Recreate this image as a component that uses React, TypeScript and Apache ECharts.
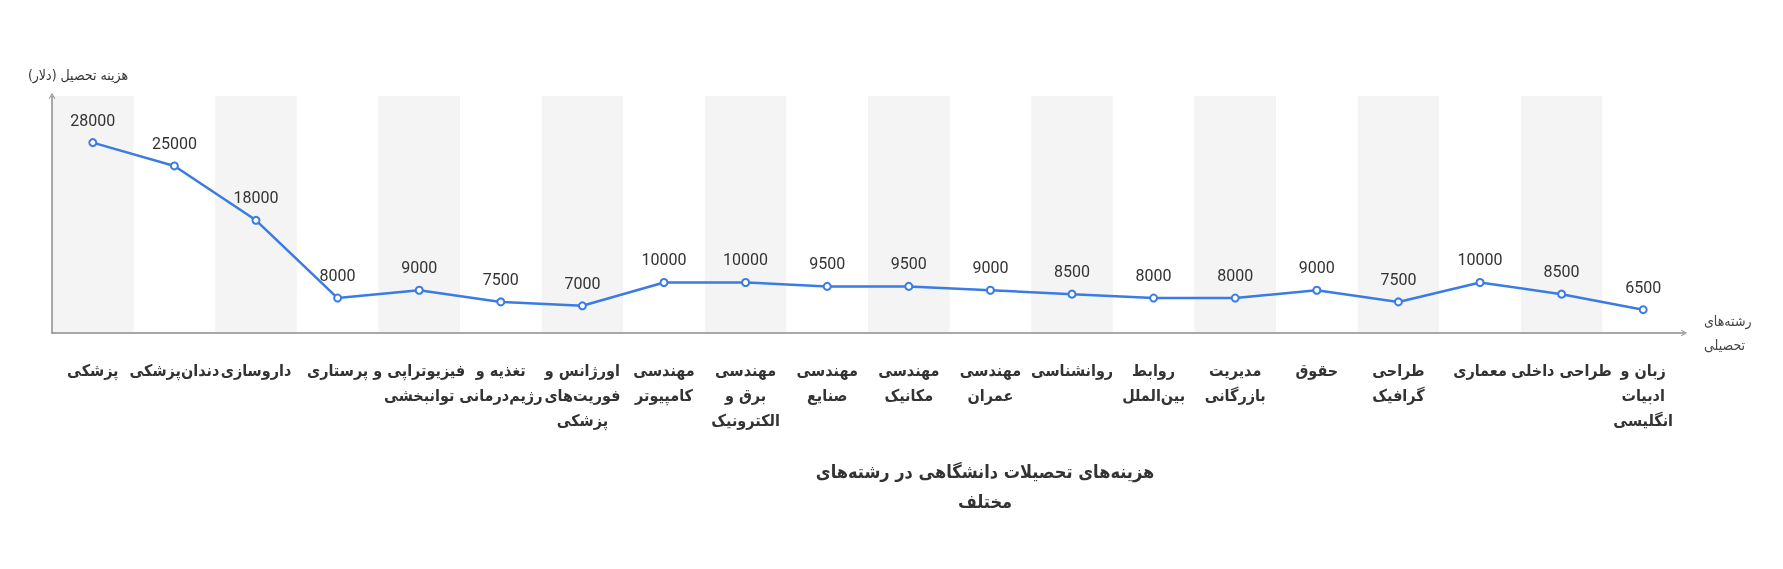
import * as echarts from 'echarts'
import React, { useEffect, useRef } from 'react'

// رشته‌ها (با شکست خط مثل نمودار اصلی)
const majors = [
  'پزشکی',
  'دندان‌پزشکی',
  'داروسازی',
  'پرستاری',
  'فیزیوتراپی و\nتوانبخشی',
  'تغذیه و\nرژیم‌درمانی',
  'اورژانس و\nفوریت‌های\nپزشکی',
  'مهندسی\nکامپیوتر',
  'مهندسی\nبرق و\nالکترونیک',
  'مهندسی\nصنایع',
  'مهندسی\nمکانیک',
  'مهندسی\nعمران',
  'روانشناسی',
  'روابط\nبین‌الملل',
  'مدیریت\nبازرگانی',
  'حقوق',
  'طراحی\nگرافیک',
  'معماری',
  'طراحی داخلی',
  'زبان و\nادبیات\nانگلیسی'
]

// هزینه (دلار)
const costs = [
  28000, 25000, 18000, 8000, 9000, 7500, 7000, 10000, 10000, 9500, 9500, 9000, 8500, 8000, 8000,
  9000, 7500, 10000, 8500, 6500
]

const titleText = 'هزینه‌های تحصیلات دانشگاهی در رشته‌های\nمختلف'
const xName = 'رشته‌های\nتحصیلی'
const yName = 'هزینه تحصیل (دلار)'

const faFont = "'DejaVu Sans Condensed', 'DejaVu Sans', sans-serif"
const axisGrey = '#8c8c8c'
// فلش باز (شکل هفت)
const chevron = 'path://M5,0 L10,8.5 L8.8,9.2 L5,2.6 L1.2,9.2 L0,8.5 Z'

const App: React.FC = () => {
  const chartRef = useRef<HTMLDivElement>(null)

  useEffect(() => {
    const chart = echarts.init(chartRef.current!, undefined, { renderer: 'svg' })
    chart.setOption({
      animation: false,
      title: {
        text: titleText,
        left: 980,
        top: 451,
        textAlign: 'center',
        textStyle: { fontFamily: faFont, fontSize: 18, fontWeight: 'bold', color: '#333', lineHeight: 30 }
      },
      grid: { left: 52, right: 99, top: 96, bottom: 236, containLabel: false },
      xAxis: {
        type: 'category',
        data: majors,
        name: xName,
        nameLocation: 'end',
        nameGap: 20,
        nameTextStyle: { fontFamily: faFont, fontSize: 14, color: '#444', lineHeight: 24, align: 'left' },
        axisLine: {
          show: true,
          symbol: ['none', chevron],
          symbolSize: [12, 6],
          lineStyle: { color: axisGrey, width: 1.5 }
        },
        axisTick: { show: false },
        axisLabel: {
          interval: 0,
          margin: 25,
          fontFamily: faFont,
          fontSize: 16,
          fontWeight: 'bold',
          color: '#333',
          lineHeight: 25,
          verticalAlign: 'top'
        },
        splitArea: {
          show: true,
          interval: 0,
          areaStyle: { color: ['#f4f4f4', 'rgba(255,255,255,0)'] }
        }
      },
      yAxis: {
        type: 'value',
        min: 3500,
        max: 34000,
        name: yName,
        nameLocation: 'end',
        nameGap: 14,
        nameTextStyle: { fontFamily: faFont, fontSize: 14, color: '#333', align: 'center', padding: [0, 0, 0, 52] },
        axisLine: {
          show: true,
          symbol: ['none', chevron],
          symbolSize: [12, 6],
          lineStyle: { color: axisGrey, width: 1.5 }
        },
        axisTick: { show: false },
        axisLabel: { show: false },
        splitLine: { show: false }
      },
      series: [
        {
          type: 'line',
          data: costs,
          symbol: 'emptyCircle',
          symbolSize: 7,
          lineStyle: { color: '#3a7be4', width: 2.5 },
          itemStyle: { color: '#3a7be4', borderWidth: 1.5 },
          label: {
            show: true,
            position: 'top',
            distance: 10,
            fontFamily: 'Roboto, sans-serif',
            fontSize: 16,
            color: '#333'
          }
        }
      ]
    })
    return () => {
      chart.dispose()
    }
  }, [])

  return <div ref={chartRef} style={{ position: 'fixed', left: 0, top: 0, width: 1783, height: 569 }} />
}

export default App
